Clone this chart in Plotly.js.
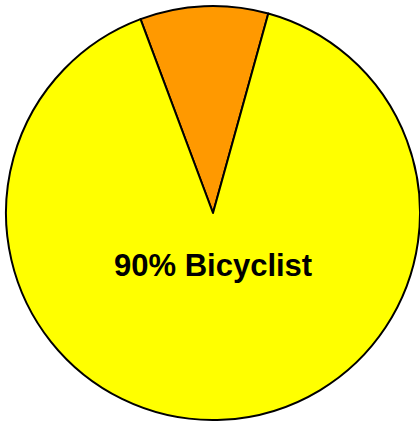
<!DOCTYPE html>
<html>
<head>
<meta charset="utf-8">
<script src="https://cdn.plot.ly/plotly-3.0.1.min.js"></script>
<style>html,body{margin:0;padding:0;background:#fff;}#chart{width:420px;height:423px;}</style>
</head>
<body>
<div id="chart"></div>
<script>
const labels = ["Other", "Bicyclist"];
const values = [10, 90];
const colors = ["#FF9900", "#FFFF00"];

const trace = {
  type: "pie",
  labels: labels,
  values: values,
  sort: false,
  direction: "clockwise",
  rotation: -20.5,
  marker: {colors: colors, line: {color: "#000000", width: 2}},
  textinfo: "none",
  hoverinfo: "label+percent",
  showlegend: false
};

const layout = {
  width: 420,
  height: 423,
  margin: {l: 6, r: 0, t: 5, b: 2},
  paper_bgcolor: "#ffffff",
  showlegend: false,
  annotations: [{
    text: "<b>" + values[1] + "% " + labels[1] + "</b>",
    xref: "paper", yref: "paper",
    x: 0.5, y: 0.374,
    xanchor: "center", yanchor: "middle",
    showarrow: false,
    font: {family: "Liberation Sans, Arial, sans-serif", size: 31, color: "#000000"}
  }]
};

Plotly.newPlot("chart", [trace], layout, {displayModeBar: false, staticPlot: true});
</script>
</body>
</html>
